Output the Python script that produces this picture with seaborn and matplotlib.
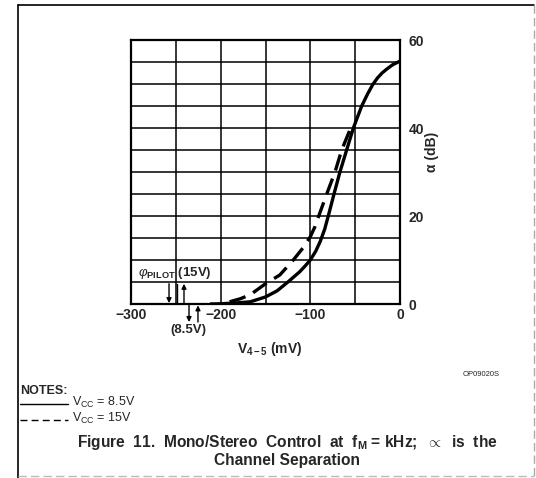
import matplotlib
matplotlib.use("Agg")
import matplotlib.pyplot as plt
from matplotlib.lines import Line2D
import seaborn as sns
import pandas as pd

# ---- data ----
solid_x = [-212, -200, -185, -167, -150, -137, -125, -112, -106, -100, -94, -89, -84, -80, -73.6, -67, -59.5, -52, -47, -42.7, -36, -30, -25, -20, -14.7, -8, -3, 0]
solid_y = [0.0, 0.05, 0.2, 0.5, 1.6, 3.0, 5.0, 7.3, 8.6, 10.0, 12.0, 14.2, 17.0, 20.0, 25.0, 30.0, 35.0, 40.0, 42.7, 45.0, 47.8, 50.0, 51.4, 52.5, 53.4, 54.4, 54.9, 55.2]
dashed_x = [-190, -178, -167, -150, -134, -119, -108, -100, -95, -91, -81.7, -72.5, -65, -58, -54]
dashed_y = [0.5, 1.2, 2.1, 4.6, 6.6, 10.0, 12.8, 15.3, 17.5, 19.8, 25.0, 30.0, 35.0, 38.5, 40.5]
x_ticks = [-300, -200, -100, 0]
x_tick_labels = ["\u2212300", "\u2212200", "\u2212100", "0"]
y_ticks = [0, 20, 40, 60]
y_tick_labels = ["0", "20", "40", "60"]
series_names = ["VCC = 8.5V", "VCC = 15V"]

sns.set_style("white")
plt.rcParams["font.family"] = ["Liberation Sans", "DejaVu Sans"]
plt.rcParams["mathtext.fontset"] = "custom"
plt.rcParams["mathtext.rm"] = "Liberation Sans"
plt.rcParams["mathtext.bf"] = "Liberation Sans:bold"
plt.rcParams["mathtext.it"] = "Liberation Sans:italic"

W, H = 536, 478
fig = plt.figure(figsize=(W / 100, H / 100), dpi=100)
fig.patch.set_facecolor("white")


def fx(px):
    return px / W


def fy(py):
    return 1 - py / H


ax = fig.add_axes([fx(131), fy(304), (400 - 131) / W, (304 - 40) / H])
ax.set_facecolor("white")

df = pd.concat([
    pd.DataFrame({"v": solid_x, "a": solid_y, "s": series_names[0]}),
    pd.DataFrame({"v": dashed_x, "a": dashed_y, "s": series_names[1]}),
])
sns.lineplot(data=df, x="v", y="a", hue="s", style="s",
             palette=["black", "black"], dashes=[(1, 0), (5, 2.6)],
             linewidth=2.4, legend=False, ax=ax, sort=False, zorder=5)
for ln in ax.lines:
    ln.set_solid_joinstyle("round")
    ln.set_dash_joinstyle("round")

ax.set_xlim(-300, 0)
ax.set_ylim(0, 60)
for v in range(-250, 0, 50):
    ax.axvline(v, color="black", lw=1.1, zorder=1)
for a in range(5, 60, 5):
    ax.axhline(a, color="black", lw=1.1, zorder=1)
for sp in ax.spines.values():
    sp.set_color("black")
    sp.set_linewidth(1.6)

ax.set_xticks(x_ticks)
ax.set_xticklabels(x_tick_labels, fontweight="bold", fontsize=10)
ax.yaxis.tick_right()
ax.set_yticks(y_ticks)
ax.set_yticklabels(y_tick_labels, fontweight="bold", fontsize=10)
ax.tick_params(axis="both", length=0, pad=3)
ax.tick_params(axis="y", pad=6)
ax.set_xlabel("")
ax.set_ylabel("")

# annotations
ax.text(-292, 7.0, r"$\varphi_{\mathbf{PILOT}}$ (15V)", fontsize=9.5,
        fontweight="bold", va="center", ha="left")
ap = dict(arrowstyle="-|>", color="black", lw=1.0, mutation_scale=7,
          shrinkA=0, shrinkB=0)
ax.annotate("", xy=(-257.6, 0.2), xytext=(-257.6, 4.6), arrowprops=ap,
            annotation_clip=False)
ax.plot([-248.7, -248.7], [0, 4.6], color="black", lw=1.0)
ax.annotate("", xy=(-240.9, 4.6), xytext=(-240.9, 0.2), arrowprops=ap,
            annotation_clip=False)
ax.annotate("", xy=(-235.3, -4.1), xytext=(-235.3, -0.3), arrowprops=ap,
            annotation_clip=False)
ax.annotate("", xy=(-225.3, -0.3), xytext=(-225.3, -4.1), arrowprops=ap,
            annotation_clip=False)
ax.text(-236, -6.0, "(8.5V)", fontsize=9.5, fontweight="bold",
        ha="center", va="center", clip_on=False)

fig.text(fx(270), fy(349), r"V$_{\mathbf{4-5}}$ (mV)", fontsize=10,
         fontweight="bold", ha="center", va="center")
fig.text(fx(432), fy(152), "\u03b1 (dB)", fontsize=10, fontweight="bold",
         rotation=90, ha="center", va="center")
fig.text(fx(481), fy(374), "OP09020S", fontsize=5.5, ha="center", va="center")

# notes
fig.text(fx(20), fy(391), "NOTES:", fontsize=9, fontweight="bold",
         ha="left", va="center")
fig.add_artist(Line2D([fx(20), fx(68)], [fy(404), fy(404)], color="black",
                      lw=1.0, transform=fig.transFigure))
fig.add_artist(Line2D([fx(20), fx(68)], [fy(420), fy(420)], color="black",
                      lw=1.0, dashes=(5, 3), transform=fig.transFigure))
fig.text(fx(72), fy(402), r"V$_{\mathrm{CC}}$ = 8.5V", fontsize=9,
         ha="left", va="center")
fig.text(fx(72), fy(418), r"V$_{\mathrm{CC}}$ = 15V", fontsize=9,
         ha="left", va="center")

# caption
fig.text(fx(287), fy(442),
         r"Figure  11.  Mono/Stereo  Control  at  f$_{\mathbf{M}}$ = kHz;  $\propto$  is  the",
         fontsize=11.2, fontweight="bold", ha="center", va="center")
fig.text(fx(287), fy(461), "Channel Separation", fontsize=11.2,
         fontweight="bold", ha="center", va="center")

# frame
fig.add_artist(Line2D([fx(18), fx(18)], [fy(5), fy(478)], color="black",
                      lw=1.2, transform=fig.transFigure))
fig.add_artist(Line2D([fx(18), fx(534)], [fy(5), fy(5)], color="black",
                      lw=1.2, transform=fig.transFigure))
fig.add_artist(Line2D([fx(534), fx(534)], [fy(5), fy(478)], color="#aaaaaa",
                      lw=1.0, dashes=(6, 3), transform=fig.transFigure))
fig.add_artist(Line2D([fx(18), fx(534)], [fy(476), fy(476)], color="#bbbbbb",
                      lw=1.0, dashes=(6, 3), transform=fig.transFigure))

fig.savefig("out.png", dpi=100, facecolor="white")
